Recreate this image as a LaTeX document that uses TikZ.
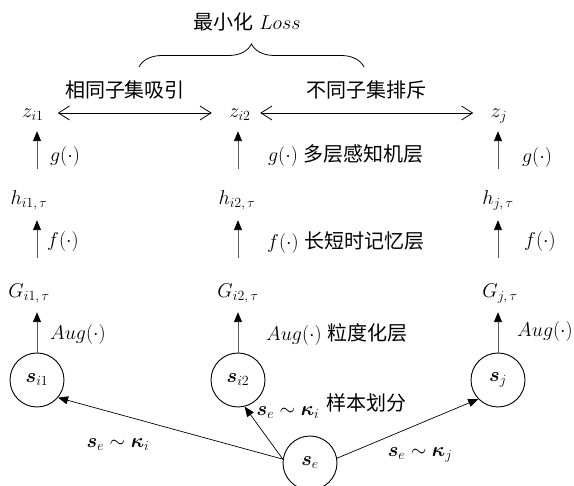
\RequirePackage{fix-cm}
\documentclass[tikz,border=0pt]{standalone}
\usepackage{amsmath}
\usepackage{fontspec}
\newfontfamily\cjk{Noto Sans CJK SC}
\usetikzlibrary{arrows.meta,decorations.pathreplacing}
\begin{document}
\begin{tikzpicture}[x=1pt,y=-1pt,
  every node/.style={font=\fontsize{20}{24}\selectfont, inner sep=0pt},
  var/.style={text height=15pt,text depth=6pt},
  cn/.style={circle,draw,line width=0.9pt,minimum size=54pt},
  vup/.style={draw=black!65, line width=0.9pt, -{Triangle[length=10pt,width=8pt,color=black]}},
  obl/.style={draw=black, line width=0.7pt, -{Triangle[length=10pt,width=8pt]}},
  dbl/.style={draw=black, line width=0.8pt, {Straight Barb[length=11pt,width=14pt]}-{Straight Barb[length=11pt,width=14pt]}},
  gar/.style={vup, shorten <=20.5pt, shorten >=7.5pt},
  far/.style={vup, shorten <=24.5pt, shorten >=9.5pt},
  aar/.style={vup, shorten >=8.5pt}
]
\useasboundingbox (0,0) rectangle (574,486);

% title and brace
\node (loss) at (247,22) {{\cjk 最小化}\ $Loss$};
\coordinate (bl) at (139,67);
\coordinate (br) at (364,67);
\draw[line width=0.8pt, decorate, decoration={brace, amplitude=23pt}] (bl) -- (br);
\node (t1) at (125,90) {\cjk 相同子集吸引};
\node (t2) at (366,90) {\cjk 不同子集排斥};

% variables
\node[var] (z1) at (33,113) {$z_{i1}$};
\node[var] (z2) at (240,113) {$z_{i2}$};
\node[var] (z3) at (499,113) {$z_{j}$};
\node[var] (h1) at (29,200) {$h_{i1,\,\tau}$};
\node[var] (h2) at (237,200) {$h_{i2,\,\tau}$};
\node[var] (h3) at (498,200) {$h_{j,\,\tau}$};
\node[var] (G1) at (29,293) {$G_{i1,\,\tau}$};
\node[var] (G2) at (238,293) {$G_{i2,\,\tau}$};
\node[var] (G3) at (500,293) {$G_{j,\,\tau}$};

% circles
\node[cn] (s1) at (37,380) {$\boldsymbol{s}_{i1}$};
\node[cn] (s2) at (238,380) {$\boldsymbol{s}_{i2}$};
\node[cn] (s3) at (498,380) {$\boldsymbol{s}_{j}$};
\node[cn] (se) at (310,463) {$\boldsymbol{s}_{e}$};

% layer labels
\node (gl1) at (65,157) {$g(\cdot)$};
\node (fl1) at (63,242) {$f(\cdot)$};
\node (al1) at (78,335) {$Aug(\cdot)$};
\node (gl2) at (346,156) {$g(\cdot)$\ {\cjk 多层感知机层}};
\node (fl2) at (346,243) {$f(\cdot)$\ {\cjk 长短时记忆层}};
\node (al2) at (337,335) {$Aug(\cdot)$\ {\cjk 粒度化层}};
\node (gl3) at (537,158) {$g(\cdot)$};
\node (fl3) at (540,242) {$f(\cdot)$};
\node (al3) at (545,332) {$Aug(\cdot)$};

% bottom labels
\node (e1) at (118,445) {$\boldsymbol{s}_e\sim\boldsymbol{\kappa}_i$};
\node (e2) at (288,413) {$\boldsymbol{s}_e\sim\boldsymbol{\kappa}_i$};
\node (e3) at (420,455) {$\boldsymbol{s}_e\sim\boldsymbol{\kappa}_j$};
\node (split) at (366,403) {\cjk 样本划分};

% double arrows
\draw[dbl, shorten <=14pt, shorten >=17.5pt] (z1.east) -- (z2.west);
\draw[dbl, shorten <=9.5pt, shorten >=17.5pt] (z2.east) -- (z3.west);

% vertical arrows
\foreach \c in {1,2,3}{
  \draw[aar] (s\c.north) -- (G\c.south -| s\c.north);
  \draw[far] (G\c.north -| s\c.north) -- (h\c.south -| s\c.north);
  \draw[gar] (h\c.north -| s\c.north) -- (z\c.south -| s\c.north);
}

% oblique arrows
\draw[obl] (se.172) -- (s1.-40);
\draw[obl] (se.172) -- (s2.-76);
\draw[obl] (se.10) -- (s3.-136);
\end{tikzpicture}
\end{document}
